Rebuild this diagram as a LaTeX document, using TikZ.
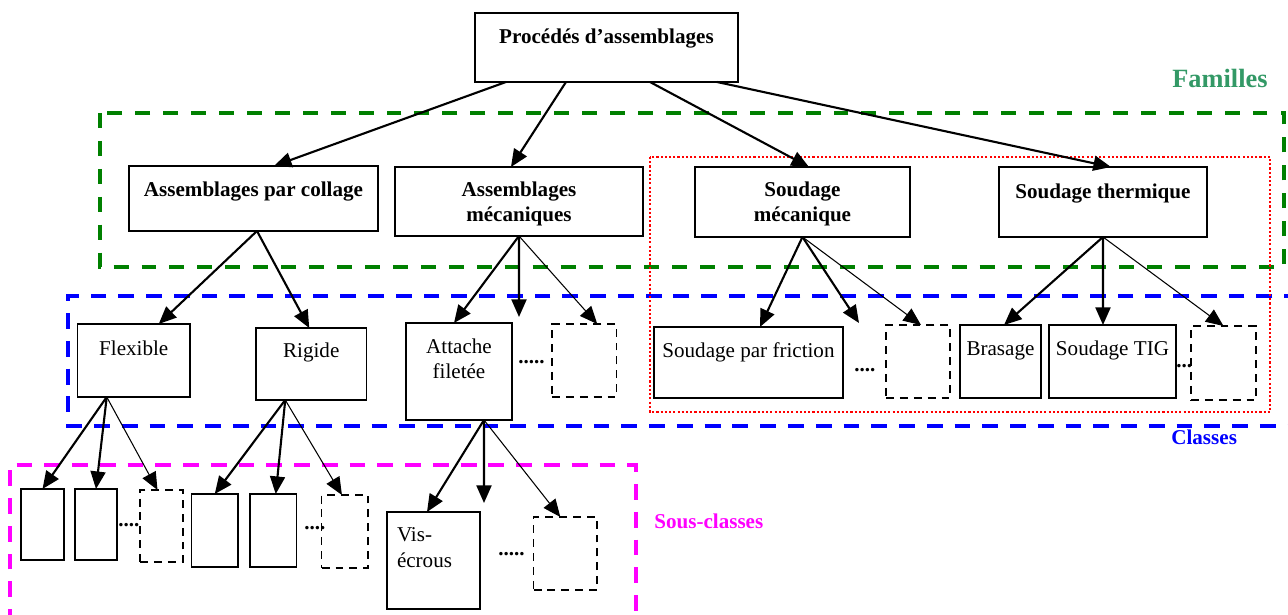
\documentclass[tikz,border=0pt]{standalone}
\usepackage{fontspec}
\setmainfont{Liberation Serif}
\usetikzlibrary{arrows.meta}
\definecolor{008000}{HTML}{008000}
\definecolor{339966}{HTML}{339966}
\definecolor{FF00FF}{HTML}{FF00FF}
\definecolor{0000FF}{HTML}{0000FF}
\definecolor{FF0000}{HTML}{FF0000}

\begin{document}
\begin{tikzpicture}[x=0.02cm,y=-0.02cm,>={Triangle[length=10pt,width=8.5pt]},
  txt/.style={font=\fontsize{12}{14.4}\selectfont},
  boite/.style={draw,line width=1.1pt,inner sep=0pt,outer sep=0pt,anchor=north west,align=center,txt},
  famille/.style={boite,font=\fontsize{12}{14.4}\selectfont\bfseries},
  vide/.style={boite,line width=0.8pt,dash pattern=on 4.5pt off 3.4pt},
  fleche/.style={->,line width=1.2pt},
  fin/.style={->,line width=0.6pt},
  points/.style={anchor=base west,inner sep=0pt,font=\fontsize{12}{14.4}\selectfont\bfseries}]
\useasboundingbox (0,0) rectangle (1288,615);
% zones
\draw[008000,line width=2.2pt,dash pattern=on 8.5pt off 7.4pt](100,113)rectangle(1284,267);
\draw[0000FF,line width=2pt,dash pattern=on 9pt off 6.8pt](1300,296)-|(68,426)--(1300,426);
\draw[FF00FF,line width=2pt,dash pattern=on 9pt off 6.8pt](10,625)|-(636,465)--(636,625);
\draw[FF0000,line width=1.1pt,dash pattern=on 1.2pt off 1.2pt](650,157)rectangle(1270,412);
\node[anchor=base west,inner sep=0pt,text=339966,font=\fontsize{15}{18}\selectfont\bfseries](familles)at(1172,88){Familles};
\node[anchor=base west,inner sep=0pt,text=0000FF,font=\fontsize{12}{14.4}\selectfont\bfseries](classes)at(1171,444){Classes};
\node[anchor=base west,inner sep=0pt,text=FF00FF,font=\fontsize{12}{14.4}\selectfont\bfseries](sousclasses)at(654,528){Sous-classes};
% familles
\node[famille,minimum width=5.26cm,text height=0.62cm,text depth=0.76cm](top)at(475,13){Procédés d’assemblages};
\node[famille,minimum width=4.98cm,text height=0.62cm,text depth=0.68cm](collage)at(129,166){Assemblages par collage};
\node[famille,minimum width=4.96cm,text height=1.1cm,text depth=0.28cm](mecan)at(395,167){Assemblages\\mécaniques};
\node[famille,minimum width=4.3cm,text height=1.1cm,text depth=0.3cm](soudmec)at(695,167){Soudage\\mécanique};
\node[famille,minimum width=4.16cm,text height=0.64cm,text depth=0.76cm](soudtherm)at(999,167){Soudage thermique};
% classes
\node[boite,minimum width=2.25cm,text height=0.64cm,text depth=0.82cm](flexible)at(77.5,324){Flexible};
\node[boite,minimum width=2.21cm,text height=0.6cm,text depth=0.84cm](rigide)at(256,328){Rigide};
\node[boite,minimum width=2.12cm,text height=1.12cm,text depth=0.82cm](attache)at(406,323){Attache\\filetée};
\node[vide,minimum width=1.29cm,minimum height=1.46cm](autremec)at(552,324){};
\node[boite,minimum width=3.78cm,text height=0.62cm,text depth=0.8cm](friction)at(654,327){Soudage par friction};
\node[vide,minimum width=1.28cm,minimum height=1.46cm](autresoudmec)at(886,325){};
\node[boite,minimum width=1.62cm,text height=0.62cm,text depth=0.84cm](brasage)at(960,325){Brasage};
\node[boite,minimum width=2.54cm,text height=0.62cm,text depth=0.84cm](tig)at(1049,325){Soudage TIG};
\node[vide,minimum width=1.3cm,minimum height=1.48cm](autretherm)at(1191,326){};
% sous-classes
\node[boite,minimum width=0.86cm,minimum height=1.42cm](sflex1)at(21,489){};
\node[boite,minimum width=0.84cm,minimum height=1.42cm](sflex2)at(75,489){};
\node[vide,minimum width=0.86cm,minimum height=1.44cm](autreflex)at(140,490){};
\node[boite,minimum width=0.93cm,minimum height=1.46cm](srig1)at(191.5,494){};
\node[boite,minimum width=0.93cm,minimum height=1.46cm](srig2)at(250,494){};
\node[vide,minimum width=0.93cm,minimum height=1.46cm](autrerig)at(321.7,495){};
\node[boite,inner xsep=0.2cm,text width=1.46cm,align=left,text height=0.6cm,text depth=1.34cm](visecrous)at(387,512){Vis-\\écrous};
\node[vide,minimum width=1.27cm,minimum height=1.46cm](autreattache)at(533.6,517){};
% points de suite
\node[points](pmec)at(518,363){.....};
\node[points](pfriction)at(854,371){....};
\node[points](ptig)at(1176,367){...};
\node[points](pflex)at(118,526){....};
\node[points](prig)at(304,529){....};
\node[points](pvis)at(498,555){.....};
\coordinate(mecfree)at(519,317);
\coordinate(soudmecfree)at(859,323);
\coordinate(attachefree)at(484,503);
% fleches
\draw[fleche]([xshift=-2.01cm]top.south)--([xshift=0.41cm]collage.north);
\draw[fleche]([xshift=-0.81cm]top.south)--([xshift=-0.16cm]mecan.north);
\draw[fleche]([xshift=0.87cm]top.south)--([xshift=0.13cm]soudmec.north);
\draw[fleche]([xshift=2.21cm]top.south)--([xshift=0.16cm]soudtherm.north);
\draw[fleche]([xshift=0.07cm]collage.south)--([xshift=0.5cm]flexible.north);
\draw[fleche]([xshift=0.07cm]collage.south)--([xshift=-0.04cm]rigide.north);
\draw[fleche](mecan.south)--([xshift=-0.1cm]attache.north);
\draw[fleche](mecan.south)--(mecfree);
\draw[fin](mecan.south)--([xshift=0.26cm]autremec.north);
\draw[fleche](soudmec.south)--([xshift=0.23cm]friction.north);
\draw[fleche](soudmec.south)--(soudmecfree);
\draw[fin](soudmec.south)--([xshift=0.06cm]autresoudmec.north);
\draw[fleche](soudtherm.south)--([xshift=0.07cm]brasage.north);
\draw[fleche](soudtherm.south)--([xshift=-0.19cm]tig.north);
\draw[fin](soudtherm.south)--(autretherm.north);
\foreach \c in {sflex1,sflex2}
  \draw[fleche]([xshift=-0.54cm]flexible.south)--(\c.north);
\draw[fin]([xshift=-0.54cm]flexible.south)--([xshift=-0.08cm]autreflex.north);
\draw[fleche]([xshift=-0.52cm]rigide.south)--(srig1.north);
\draw[fleche]([xshift=-0.52cm]rigide.south)--([xshift=0.05cm]srig2.north);
\draw[fin]([xshift=-0.52cm]rigide.south)--([xshift=-0.06cm]autrerig.north);
\draw[fleche]([xshift=0.5cm]attache.south)--([xshift=-0.13cm]visecrous.north);
\draw[fleche]([xshift=0.5cm]attache.south)--(attachefree);
\draw[fin]([xshift=0.5cm]attache.south)--([xshift=-0.1cm]autreattache.north);
\end{tikzpicture}
\end{document}
